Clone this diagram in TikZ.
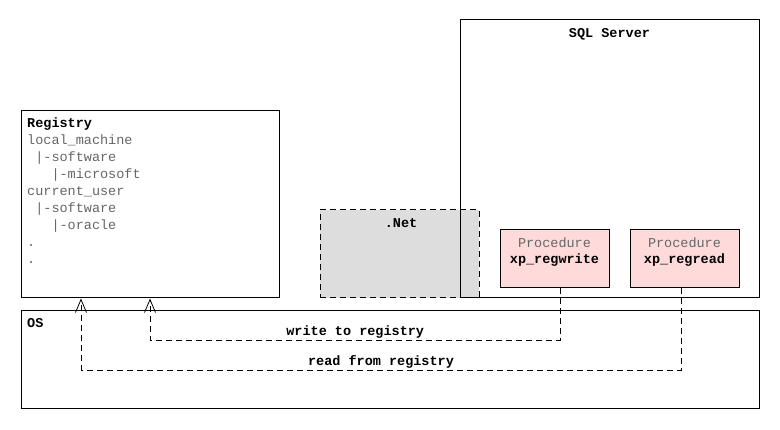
\documentclass[tikz,border=0pt]{standalone}
\usepackage{fontspec}
\setmonofont{Liberation Mono}
\usetikzlibrary{arrows.meta,calc}
\definecolor{txtgray}{HTML}{666666}
\definecolor{netfill}{HTML}{DDDDDD}
\definecolor{procfill}{HTML}{FFDADA}
\tikzset{
  box/.style={draw=black, line width=1pt, inner sep=0pt, minimum width=#1},
  boxh/.style={minimum height=#1},
  mono/.style={font=\ttfamily\fontsize{13.5}{17}\selectfont, inner sep=0pt},
  monob/.style={font=\ttfamily\bfseries\fontsize{13.5}{17}\selectfont, inner sep=0pt},
  graytxt/.style={mono, text=txtgray},
  dsh/.style={dash pattern=on 6pt off 4pt},
  conn/.style={draw=black, line width=0.9pt, dsh, -{Straight Barb[length=13pt,width=11pt,line width=0.8pt]}}
}
\begin{document}
\begin{tikzpicture}[x=1pt,y=-1pt]
\useasboundingbox (0,0) rectangle (780,430);
% .Net fill
\node[inner sep=0pt, minimum width=159pt, minimum height=88pt, fill=netfill] (netbg) at (399.5,254) {};
% SQL Server
\node[box=299pt, boxh=278pt] (sql) at (609.5,159) {};
\node[monob, anchor=base] (sqlt) at (609.5,37.5) {SQL Server};
% .Net border
\node[draw=black, line width=1pt, dsh, inner sep=0pt, minimum width=159pt, minimum height=88pt] (net) at (399.5,254) {};
\node[monob, anchor=base] (nett) at (401,227.5) {.Net};
% Procedures
\node[box=109pt, boxh=58pt, fill=procfill] (pw) at (554.5,259) {};
\node[graytxt, anchor=base] (pwa) at (554.5,247.5) {Procedure};
\node[monob, anchor=base] (pwb) at (554.5,264) {xp\_regwrite};
\node[box=109pt, boxh=58pt, fill=procfill] (pr) at (684.5,259) {};
\node[graytxt, anchor=base] (pra) at (684.5,247.5) {Procedure};
\node[monob, anchor=base] (prb) at (684.5,264) {xp\_regread};
% Registry
\node[box=258pt, boxh=187pt] (reg) at (150,204.5) {};
\node[monob, anchor=base west] (regt) at (27,128) {Registry};
\node[graytxt, anchor=north west, align=left] (regl) at (27,132.5)
  {\rule{0pt}{11.5pt}local\_machine\\
   \ |-software\\
   \ \ \ |-microsoft\\
   current\_user\\
   \ |-software\\
   \ \ \ |-oracle\\
   .\\
   .};
% OS
\node[box=738pt, boxh=98pt] (os) at (390,360) {};
\node[monob, anchor=base west] (ost) at (27,327.5) {OS};
% connectors
\coordinate (wy) at (150,340);
\coordinate (ry) at (81,370);
\draw[conn] ([xshift=6pt]pw.south) |- node[monob, anchor=base, pos=0.75, yshift=4pt] (wl) {write to registry} (wy) -- (reg.south);
\draw[conn] ([xshift=-3.5pt]pr.south) |- node[monob, anchor=base, pos=0.75, yshift=4pt] (rl) {read from registry} (ry) -- (reg.south west -| ry);
\end{tikzpicture}
\end{document}
